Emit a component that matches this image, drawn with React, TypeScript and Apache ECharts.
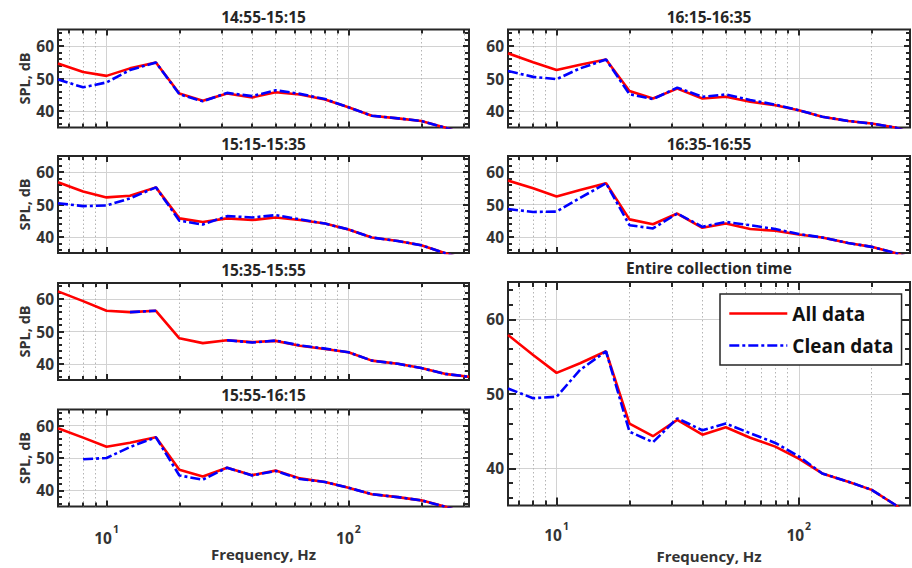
import React, { useEffect, useRef } from 'react';
import * as echarts from 'echarts';

// ---------- data ----------
const frequencies = [6.3, 8, 10, 12.5, 16, 20, 25, 31.5, 40, 50, 63, 80, 100, 125, 160, 200, 250, 315];
const xMajorTicks = [10, 100];
const xMinorTicks = [7, 8, 9, 20, 30, 40, 50, 60, 70, 80, 90, 200, 300];
const yMajorTicks = [40, 50, 60];
const yMinorTicks = [36, 38, 42, 44, 46, 48, 52, 54, 56, 58, 62, 64];
const yRange = [35, 65];
const xRangeLeft = [6.3, 315];
const xRangeRight = [6.3, 288];
const seriesNames = ['All data', 'Clean data'];
const panelTitles = ['14:55-15:15', '15:15-15:35', '15:35-15:55', '15:55-16:15', '16:15-16:35', '16:35-16:55', 'Entire collection time'];

const all1455 = [54.6, 52.0, 50.8, 53.1, 54.9, 45.4, 43.2, 45.4, 44.2, 45.8, 45.1, 43.6, 41.2, 38.6, 37.8, 37.0, 35.0, 32.5];
const clean1455 = [49.7, 47.3, 48.8, 52.6, 54.9, 45.2, 43.0, 45.6, 44.6, 46.4, 45.3, 43.7, 41.2, 38.6, 37.8, 37.0, 35.0, 32.5];
const all1515 = [56.9, 54.0, 52.2, 52.7, 55.3, 45.7, 44.6, 45.7, 45.2, 46.0, 45.2, 44.1, 42.3, 39.8, 38.7, 37.4, 35.0, 32.5];
const clean1515 = [50.4, 49.5, 49.7, 51.9, 55.3, 45.0, 43.8, 46.4, 46.0, 46.7, 45.4, 44.1, 42.3, 39.8, 38.7, 37.4, 35.0, 32.5];
const all1535 = [62.4, 59.4, 56.4, 56.0, 56.4, 47.9, 46.4, 47.3, 46.7, 47.1, 45.6, 44.6, 43.6, 41.0, 40.0, 38.7, 36.9, 36.0];
const clean1535 = [null, null, null, 56.0, 56.4, null, null, 47.3, 46.6, 47.2, 45.7, 44.7, 43.6, 41.0, 40.0, 38.7, 36.9, 36.0];
const all1555 = [59.2, 56.3, 53.5, 54.7, 56.4, 46.4, 44.3, 47.0, 44.7, 46.1, 43.7, 42.6, 40.8, 38.8, 37.9, 36.9, 35.0, 32.5];
const clean1555 = [null, 49.6, 50.0, 53.4, 56.4, 44.6, 43.3, 47.0, 44.6, 46.0, 43.5, 42.6, 40.8, 38.8, 37.9, 36.9, 35.0, 32.5];
const all1615 = [57.7, 55.0, 52.6, 54.2, 55.8, 46.2, 43.9, 46.9, 43.9, 44.4, 42.9, 41.8, 40.3, 38.3, 37.0, 36.2, 35.0, 32.5];
const clean1615 = [52.3, 50.5, 49.8, 53.1, 55.8, 45.2, 43.7, 47.2, 44.4, 45.1, 43.4, 42.0, 40.3, 38.3, 37.0, 36.2, 35.0, 32.5];
const all1635 = [57.4, 55.0, 52.5, 54.5, 56.6, 45.4, 43.9, 47.2, 42.8, 44.1, 42.4, 41.9, 40.7, 39.8, 38.1, 36.9, 35.0, 32.5];
const clean1635 = [48.6, 47.7, 47.8, 52.0, 56.6, 43.6, 42.6, 47.2, 43.1, 44.6, 43.6, 42.4, 40.9, 39.8, 38.1, 36.9, 35.0, 32.5];
const allEntire = [57.9, 55.2, 52.8, 54.1, 55.7, 46.0, 44.3, 46.5, 44.5, 45.5, 44.1, 42.9, 41.3, 39.3, 38.2, 37.1, 35.1, 32.5];
const cleanEntire = [50.7, 49.4, 49.6, 53.2, 55.7, 44.9, 43.5, 46.7, 45.1, 46.0, 44.7, 43.4, 41.6, 39.3, 38.2, 37.1, 35.1, 32.5];

// ---------- layout / style ----------
const FONT = '"Open Sans", sans-serif';
const DARK = '#262626';
const TXT = '#333333';
const RED = '#ff0000';
const BLUE = '#0000ff';

const panels = [
  { title: panelTitles[0], all: all1455, clean: clean1455, left: 58, top: 29.5, width: 411, height: 98, col: 'L', bottom: false, titleY: 17 },
  { title: panelTitles[1], all: all1515, clean: clean1515, left: 58, top: 156, width: 411, height: 97, col: 'L', bottom: false, titleY: 144 },
  { title: panelTitles[2], all: all1535, clean: clean1535, left: 58, top: 283, width: 411, height: 97, col: 'L', bottom: false, titleY: 270 },
  { title: panelTitles[3], all: all1555, clean: clean1555, left: 58, top: 409.5, width: 411, height: 97, col: 'L', bottom: true, titleY: 395 },
  { title: panelTitles[4], all: all1615, clean: clean1615, left: 508, top: 29.5, width: 402, height: 98, col: 'R', bottom: false, titleY: 17 },
  { title: panelTitles[5], all: all1635, clean: clean1635, left: 508, top: 156, width: 402, height: 97, col: 'R', bottom: false, titleY: 144 },
  { title: panelTitles[6], all: allEntire, clean: cleanEntire, left: 508, top: 282, width: 402, height: 223.5, col: 'R', bottom: true, titleY: 268, big: true },
];

function buildOption() {
  const grid: any[] = [];
  const xAxis: any[] = [];
  const yAxis: any[] = [];
  const series: any[] = [];
  const graphic: any[] = [];

  panels.forEach((p: any, i) => {
    const [xmin, xmax] = p.col === 'L' ? xRangeLeft : xRangeRight;
    const [ymin, ymax] = yRange;
    grid.push({
      left: p.left, top: p.top, width: p.width, height: p.height,
      show: true, borderColor: DARK, borderWidth: 2, backgroundColor: 'transparent',
      containLabel: false, outerBoundsMode: 'none',
    });
    xAxis.push({
      type: 'log', logBase: 10, gridIndex: i, min: xmin, max: xmax,
      axisLine: { show: false }, axisTick: { show: false },
      splitLine: { show: true, showMinLine: false, showMaxLine: false, lineStyle: { color: '#d2d2d2', width: 1 } },
      axisLabel: {
        show: p.bottom, showMinLabel: false, showMaxLabel: false, margin: p.big ? 15 : 17,
        formatter: (v: number) => {
          const e = Math.log10(v);
          if (Math.abs(e - Math.round(e)) > 1e-6) return '';
          return `{b|10}{s|${Math.round(e)}}`;
        },
        rich: {
          b: { fontSize: 15.5, fontWeight: 'bold', fontFamily: FONT, color: TXT, lineHeight: 22, verticalAlign: 'bottom' },
          s: { fontSize: 10.5, fontWeight: 'bold', fontFamily: FONT, color: TXT, lineHeight: 12, verticalAlign: 'top', padding: [0, 0, 0, 1] },
        },
      },
      name: p.bottom ? 'Frequency, Hz' : '', nameLocation: 'middle', nameGap: p.big ? 43 : 34,
      nameTextStyle: { fontSize: 15, fontWeight: 'bold', fontFamily: FONT, color: TXT },
    });
    yAxis.push({
      type: 'value', gridIndex: i, min: ymin, max: ymax, splitNumber: 3,
      axisLine: { show: false }, axisTick: { show: false },
      splitLine: { show: true, showMinLine: false, showMaxLine: false, lineStyle: { color: '#d2d2d2', width: 1 } },
      axisLabel: {
        show: true, margin: 4, showMinLabel: false, showMaxLabel: false,
        formatter: (v: number) => (v % 10 === 0 ? String(v) : ''),
        fontSize: 15.5, fontWeight: 'bold', fontFamily: FONT, color: TXT,
      },
      name: p.col === 'L' ? 'SPL, dB' : '', nameLocation: 'middle', nameGap: 26,
      nameTextStyle: { fontSize: 14.5, fontWeight: 'bold', fontFamily: FONT, color: TXT },
    });

    // minor grid lines & ticks through the axes' scales
    const dyPerPx = (ymax - ymin) / p.height;
    const decadePx = p.width / (Math.log10(xmax) - Math.log10(xmin));
    const fx = (px: number) => Math.pow(10, px / decadePx);
    const tickLen = (major: boolean) => (p.big ? (major ? 8 : 5) : (major ? 6 : 4));
    const tickStyle = { type: 'solid', color: DARK, width: 2 };
    const ml: any[] = [];
    xMinorTicks.filter((v) => v > xmin && v < xmax).forEach((v) => {
      ml.push({ xAxis: v, lineStyle: { type: [1.5, 2.5], color: '#b4b4b4', width: 1 } });
    });
    const xt = [
      ...xMajorTicks.map((v) => ({ v, major: true })),
      ...xMinorTicks.map((v) => ({ v, major: false })),
    ].filter((t) => t.v > xmin && t.v < xmax);
    xt.forEach(({ v, major }) => {
      const d = tickLen(major) * dyPerPx;
      ml.push([{ coord: [v, ymin], lineStyle: tickStyle }, { coord: [v, ymin + d] }]);
      ml.push([{ coord: [v, ymax], lineStyle: tickStyle }, { coord: [v, ymax - d] }]);
    });
    const yt = [
      ...yMajorTicks.map((v) => ({ v, major: true })),
      ...yMinorTicks.map((v) => ({ v, major: false })),
    ];
    yt.forEach(({ v, major }) => {
      const f = fx(tickLen(major));
      ml.push([{ coord: [xmin, v], lineStyle: tickStyle }, { coord: [xmin * f, v] }]);
      ml.push([{ coord: [xmax, v], lineStyle: tickStyle }, { coord: [xmax / f, v] }]);
    });

    series.push({
      type: 'line', name: 'grid' + i, xAxisIndex: i, yAxisIndex: i, data: [], silent: true,
      markLine: { silent: true, symbol: ['none', 'none'], label: { show: false }, z: 1, animation: false, data: ml },
    });
    series.push({
      type: 'line', name: seriesNames[0], xAxisIndex: i, yAxisIndex: i, z: 3,
      data: frequencies.map((f, k) => [f, p.all[k]]),
      symbol: 'none', showSymbol: false, clip: true,
      lineStyle: { color: RED, width: 2.6, type: 'solid' }, itemStyle: { color: RED },
    });
    series.push({
      type: 'line', name: seriesNames[1], xAxisIndex: i, yAxisIndex: i, z: 4,
      data: frequencies.map((f, k) => [f, p.clean[k]]),
      symbol: 'none', showSymbol: false, clip: true, connectNulls: false,
      lineStyle: { color: BLUE, width: 2.6, type: [10, 3, 3, 3] }, itemStyle: { color: BLUE },
    });

    graphic.push({
      type: 'text', x: p.left + p.width / 2, y: p.titleY, silent: true,
      style: { text: p.title, fontSize: 15.5, fontWeight: 'bold', fontFamily: FONT, fill: DARK, align: 'center', verticalAlign: 'middle' },
    });
  });

  return {
    animation: false,
    backgroundColor: '#ffffff',
    grid, xAxis, yAxis, series, graphic,
    legend: {
      show: true, data: seriesNames, orient: 'vertical', left: 720, top: 294,
      itemWidth: 58, itemHeight: 14, itemGap: 13, padding: [10, 8, 10, 8],
      borderColor: DARK, borderWidth: 1.5, backgroundColor: '#ffffff', z: 10,
      itemStyle: { opacity: 0, borderWidth: 0 },
      lineStyle: { width: 2.6 },
      textStyle: { fontSize: 19, fontWeight: 'bold', fontFamily: FONT, color: '#111111' },
    },
  };
}

export default function App() {
  const ref = useRef<HTMLDivElement>(null);
  useEffect(() => {
    if (!ref.current) return;
    const chart = echarts.init(ref.current, undefined, { renderer: 'svg' });
    chart.setOption(buildOption() as any);
    return () => chart.dispose();
  }, []);
  return <div ref={ref} style={{ position: 'fixed', left: 0, top: 0, width: 912, height: 568, background: '#fff' }} />;
}
